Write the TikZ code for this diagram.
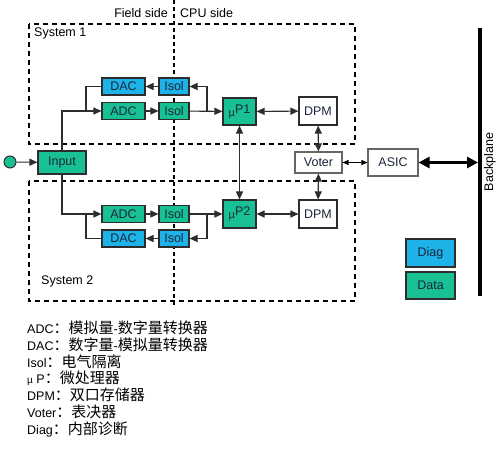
\documentclass[tikz,border=0pt]{standalone}
\usepackage{fontspec}
\setmainfont{Liberation Sans}
\newfontfamily\cjk{Noto Sans CJK SC}
\usetikzlibrary{arrows.meta}
\definecolor{dgreen}{RGB}{24,192,148}
\definecolor{dblue}{RGB}{29,178,232}
\definecolor{bord}{RGB}{45,45,45}
\definecolor{txt}{RGB}{25,40,60}
\newcommand{\cj}[1]{{\cjk\fontsize{15}{16}\selectfont #1}}
\begin{document}
\begin{tikzpicture}[x=1pt,y=-1pt,
  box/.style={draw=bord,line width=1.1pt,inner sep=0pt,text=txt,font=\fontsize{12.5}{14}\selectfont},
  gbox/.style={box,fill=dgreen},
  bbox/.style={box,fill=dblue},
  wbox/.style={box,fill=white},
  arr/.style={line width=1.1pt,draw=bord,-{Triangle[length=8pt,width=7pt]}},
  darr/.style={line width=1.1pt,draw=bord,{Triangle[length=8pt,width=7pt]}-{Triangle[length=8pt,width=7pt]}},
  ln/.style={line width=1.1pt,draw=bord},
  dsh/.style={line width=1.4pt,dash pattern=on 5pt off 4pt,draw=black},
  lbl/.style={font=\fontsize{12.5}{14}\selectfont,inner sep=0pt},
  leg/.style={anchor=west,inner sep=0pt,font=\fontsize{12.5}{14}\selectfont}
]
\useasboundingbox (0,0) rectangle (500,456);
% dashed frames
\draw[dsh] (29,24) rectangle (355,144);
\draw[dsh] (29,181) rectangle (355,301);
\coordinate (vt) at (174,0);
\coordinate (vb) at (174,306);
\draw[line width=1.2pt,dash pattern=on 4pt off 3pt] (vt) -- (vb);
\node[lbl,anchor=east] (fs) at (168,13) {Field side};
\node[lbl,anchor=west] (cs) at (180,13) {CPU side};
\node[lbl,anchor=west] (s1) at (34,33) {System 1};
\node[lbl,anchor=west] (s2) at (41,281) {System 2};

% system 1
\node[bbox,minimum width=43pt,minimum height=17pt] (dac1) at (123.5,86.5) {DAC};
\node[bbox,minimum width=30pt,minimum height=17pt] (isd1) at (174,86.5) {Isol};
\node[gbox,minimum width=43pt,minimum height=17pt] (adc1) at (123.5,111) {ADC};
\node[gbox,minimum width=30pt,minimum height=17pt] (isa1) at (174,111) {Isol};
\node[gbox,minimum width=33pt,minimum height=27pt] (mp1) at (239.5,111.5) {{\fontsize{11}{12}\selectfont µ}\raisebox{3pt}{P1}};
\node[wbox,minimum width=38pt,minimum height=28pt] (dpm1) at (318,111) {DPM};

% system 2
\node[gbox,minimum width=43pt,minimum height=17pt] (adc2) at (123.5,214) {ADC};
\node[gbox,minimum width=30pt,minimum height=17pt] (isa2) at (174,214) {Isol};
\node[bbox,minimum width=43pt,minimum height=17pt] (dac2) at (123.5,238.5) {DAC};
\node[bbox,minimum width=30pt,minimum height=17pt] (isd2) at (174,238.5) {Isol};
\node[gbox,minimum width=33pt,minimum height=28pt] (mp2) at (239.5,214) {{\fontsize{11}{12}\selectfont µ}\raisebox{3pt}{P2}};
\node[wbox,minimum width=38pt,minimum height=28pt] (dpm2) at (318,214) {DPM};

% middle
\node[gbox,minimum width=48pt,minimum height=23pt] (in) at (62,162.5) {Input};
\node[circle,draw=bord,line width=1pt,fill=dgreen,minimum size=12pt,inner sep=0pt] (src) at (10,162) {};
\node[wbox,draw=gray!80!black,minimum width=47pt,minimum height=21pt] (vot) at (318.5,162.5) {Voter};
\node[wbox,draw=gray!80!black,minimum width=50pt,minimum height=27pt] (asic) at (393,162.5) {ASIC};
\coordinate (bpt) at (480,28);
\coordinate (bpb) at (480,296);
\coordinate (bpm) at (478,162.5);
\draw[line width=4pt] (bpt) -- (bpb);
\node[lbl,rotate=90] (bp) at (490,162) {Backplane};

% legend boxes
\node[bbox,minimum width=49pt,minimum height=28pt] (diag) at (430.5,253) {Diag};
\node[gbox,minimum width=49pt,minimum height=27pt] (data) at (430.5,285.5) {Data};

% junctions
\coordinate (j1) at (86,111);
\coordinate (j2) at (207,111);
\coordinate (j3) at (86,214);
\coordinate (j4) at (207,214);

% connectors system 1
\draw[arr] (src) -- (in);
\draw[arr] (in.north) |- (adc1.west);
\draw[ln] (dac1.west) -| (j1);
\draw[arr] (adc1) -- (isa1);
\draw[arr] (isa1) -- (mp1);
\draw[arr] (j2) |- (isd1.east);
\draw[arr] (isd1) -- (dac1);
\draw[darr] (mp1) -- (dpm1);
% connectors system 2
\draw[arr] (in.south) |- (adc2.west);
\draw[ln] (dac2.west) -| (j3);
\draw[arr] (adc2) -- (isa2);
\draw[arr] (isa2) -- (mp2);
\draw[arr] (j4) |- (isd2.east);
\draw[arr] (isd2) -- (dac2);
\draw[darr] (mp2) -- (dpm2);
% vertical
\draw[darr] (mp1) -- (mp2);
\draw[darr] (dpm1) -- (vot);
\draw[darr] (dpm2) -- (vot);
\draw[line width=1.1pt,{Triangle[length=6pt,width=5pt]}-{Triangle[length=6pt,width=5pt]}] (vot) -- (asic);
\draw[line width=3pt,{Triangle[length=11pt,width=11pt]}-{Triangle[length=11pt,width=11pt]}] (asic) -- (bpm);

% text legend
\node[leg] (t1) at (27,328) {ADC\cj{：模拟量}-\cj{数字量转换器}};
\node[leg] (t2) at (27,345) {DAC\cj{：数字量}-\cj{模拟量转换器}};
\node[leg] (t3) at (27,362) {Isol\cj{：电气隔离}};
\node[leg] (t4) at (27,378) {{\fontsize{10}{12}\selectfont µ} P\cj{：微处理器}};
\node[leg] (t5) at (27,395) {DPM\cj{：双口存储器}};
\node[leg] (t6) at (27,412) {Voter\cj{：表决器}};
\node[leg] (t7) at (27,429) {Diag\cj{：内部诊断}};
\end{tikzpicture}
\end{document}
